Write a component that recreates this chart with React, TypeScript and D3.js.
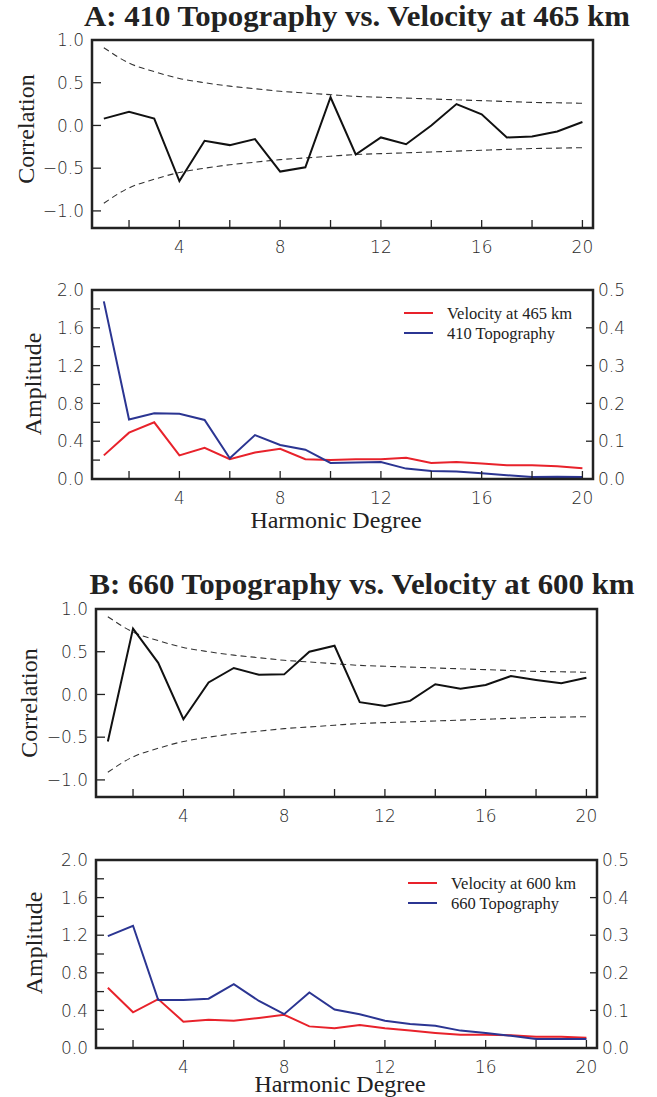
import React from "react";
import * as d3 from "d3";

const degrees = [1, 2, 3, 4, 5, 6, 7, 8, 9, 10, 11, 12, 13, 14, 15, 16, 17, 18, 19, 20];
const xTickValues = [2, 4, 6, 8, 10, 12, 14, 16, 18, 20];
const xTickLabels = [4, 8, 12, 16, 20];
const corrTickValues = [1.0, 0.5, 0.0, -0.5, -1.0];
const ampLeftTicks = [0, 0.2, 0.4, 0.6, 0.8, 1.0, 1.2, 1.4, 1.6, 1.8, 2.0];
const ampLeftLabels = [0, 0.4, 0.8, 1.2, 1.6, 2.0];
const ampRightLabels = [0, 0.1, 0.2, 0.3, 0.4, 0.5];

// significance bounds
const sigUpper = [0.91, 0.73, 0.63, 0.55, 0.5, 0.46, 0.43, 0.4, 0.38, 0.36, 0.34, 0.33, 0.32, 0.31, 0.3, 0.29, 0.28, 0.27, 0.265, 0.26];
const sigLower = [-0.91, -0.73, -0.63, -0.55, -0.5, -0.46, -0.43, -0.4, -0.38, -0.36, -0.34, -0.33, -0.32, -0.31, -0.3, -0.29, -0.28, -0.27, -0.265, -0.26];

// Panel A
const corrA = [0.08, 0.16, 0.08, -0.65, -0.18, -0.23, -0.16, -0.54, -0.49, 0.33, -0.34, -0.14, -0.22, 0.0, 0.25, 0.13, -0.14, -0.13, -0.07, 0.04];
const velA = [0.25, 0.49, 0.6, 0.25, 0.33, 0.21, 0.28, 0.32, 0.21, 0.2, 0.21, 0.21, 0.225, 0.17, 0.18, 0.165, 0.145, 0.145, 0.135, 0.115];
const topoA = [1.88, 0.63, 0.695, 0.69, 0.625, 0.22, 0.465, 0.36, 0.31, 0.17, 0.175, 0.18, 0.11, 0.085, 0.08, 0.06, 0.04, 0.02, 0.025, 0.02];

// Panel B
const corrB = [-0.55, 0.77, 0.37, -0.29, 0.14, 0.31, 0.23, 0.235, 0.5, 0.57, -0.09, -0.135, -0.075, 0.12, 0.066, 0.11, 0.215, 0.17, 0.13, 0.195];
const velB = [0.64, 0.38, 0.52, 0.28, 0.3, 0.29, 0.32, 0.354, 0.23, 0.21, 0.245, 0.21, 0.185, 0.16, 0.14, 0.14, 0.135, 0.12, 0.12, 0.11];
const topoB = [1.19, 1.3, 0.51, 0.51, 0.525, 0.68, 0.5, 0.36, 0.59, 0.41, 0.36, 0.29, 0.255, 0.237, 0.185, 0.16, 0.13, 0.095, 0.095, 0.095];

const SERIF = "'Liberation Serif', 'Times New Roman', serif";
const SANS = "'DejaVu Sans', 'Liberation Sans', sans-serif";
const FRAME = "#222";
const RED = "#e8222b";
const BLUE = "#2b3592";
const TICKTXT = "#2a2a2a";

function XAxis({ x, bottom }: any) {
  return (
    <g>
      {xTickValues.map((v) => (
        <line key={"t" + v} x1={x(v)} x2={x(v)} y1={bottom} y2={bottom - 8} stroke={FRAME} strokeWidth={1.3} />
      ))}
      {xTickLabels.map((v) => (
        <text key={"l" + v} x={x(v)} y={bottom + 25} textAnchor="middle" fontFamily={SANS} fontWeight={200} fontSize={17} fill={TICKTXT}>
          {v}
        </text>
      ))}
    </g>
  );
}

function fmtMinus(v: number) {
  const s = v.toFixed(1);
  return s.replace("-", "\u2212");
}

function CorrPanel({ left, top, width, height, values, ylabelX, ylabelY }: any) {
  const x = d3.scaleLinear().domain([0.53, 20.42]).range([left, left + width]);
  const y = d3.scaleLinear().domain([-1.2, 1.0]).range([top + height, top]);
  const solid = d3.line<number>().x((_, i) => x(degrees[i])).y((d) => y(d));
  const smooth = d3.line<number>().x((_, i) => x(degrees[i])).y((d) => y(d)).curve(d3.curveMonotoneX);
  return (
    <g>
      <path d={smooth(sigUpper) || ""} fill="none" stroke="#333" strokeWidth={1.1} strokeDasharray="6,4" />
      <path d={smooth(sigLower) || ""} fill="none" stroke="#333" strokeWidth={1.1} strokeDasharray="6,4" />
      <path d={solid(values) || ""} fill="none" stroke="#111" strokeWidth={2} strokeLinejoin="miter" />
      {corrTickValues.map((v) => (
        <g key={v}>
          <line x1={left} x2={left + 9} y1={y(v)} y2={y(v)} stroke={FRAME} strokeWidth={1.3} />
          <text x={left - 8} y={y(v)} dy="0.36em" textAnchor="end" fontFamily={SANS} fontWeight={200} fontSize={17} fill={TICKTXT}>
            {fmtMinus(v)}
          </text>
        </g>
      ))}
      <XAxis x={x} bottom={top + height} />
      <rect x={left} y={top} width={width} height={height} fill="none" stroke={FRAME} strokeWidth={2.5} />
      <text transform={`translate(${ylabelX},${ylabelY}) rotate(-90)`} textAnchor="middle" fontFamily={SERIF} fontSize={24} fill="#222">
        Correlation
      </text>
    </g>
  );
}

function AmpPanel({ left, top, width, height, vel, topo, velLabel, topoLabel, ylabelX, ylabelY, xlabelY }: any) {
  const x = d3.scaleLinear().domain([0.53, 20.42]).range([left, left + width]);
  const y = d3.scaleLinear().domain([0, 2.0]).range([top + height, top]);
  const yR = d3.scaleLinear().domain([0, 0.5]).range([top + height, top]);
  const line = d3.line<number>().x((_, i) => x(degrees[i])).y((d) => y(d));
  const legX = left + 312;
  return (
    <g>
      <path d={line(vel) || ""} fill="none" stroke={RED} strokeWidth={2} />
      <path d={line(topo) || ""} fill="none" stroke={BLUE} strokeWidth={2} />
      {ampLeftTicks.map((v) => (
        <line key={"lt" + v} x1={left} x2={left + 8} y1={y(v)} y2={y(v)} stroke={FRAME} strokeWidth={1.3} />
      ))}
      {ampLeftLabels.map((v) => (
        <text key={"ll" + v} x={left - 8} y={y(v)} dy="0.36em" textAnchor="end" fontFamily={SANS} fontWeight={200} fontSize={17} fill={TICKTXT}>
          {v.toFixed(1)}
        </text>
      ))}
      {ampRightLabels.map((v) => (
        <g key={"r" + v}>
          <line x1={left + width - 7} x2={left + width} y1={yR(v)} y2={yR(v)} stroke={FRAME} strokeWidth={1.3} />
          <text x={left + width + 5} y={yR(v)} dy="0.36em" textAnchor="start" fontFamily={SANS} fontWeight={200} fontSize={17} fill={TICKTXT}>
            {v.toFixed(1)}
          </text>
        </g>
      ))}
      <XAxis x={x} bottom={top + height} />
      <rect x={left} y={top} width={width} height={height} fill="none" stroke={FRAME} strokeWidth={2.5} />
      <line x1={legX} x2={legX + 29} y1={top + 23} y2={top + 23} stroke={RED} strokeWidth={2} />
      <text x={legX + 43} y={top + 29} fontFamily={SERIF} fontSize={16.5} fill="#222">{velLabel}</text>
      <line x1={legX} x2={legX + 29} y1={top + 43} y2={top + 43} stroke={BLUE} strokeWidth={2} />
      <text x={legX + 43} y={top + 49} fontFamily={SERIF} fontSize={16.5} fill="#222">{topoLabel}</text>
      <text transform={`translate(${ylabelX},${ylabelY}) rotate(-90)`} textAnchor="middle" fontFamily={SERIF} fontSize={24} fill="#222">
        Amplitude
      </text>
      <text x={left + 244} y={xlabelY} textAnchor="middle" fontFamily={SERIF} fontSize={24} fill="#222">
        Harmonic Degree
      </text>
    </g>
  );
}

export default function App() {
  return (
    <svg width={657} height={1097} style={{ position: "absolute", left: 0, top: 0, background: "#fff" }}>
      <rect x={0} y={0} width={657} height={1097} fill="#fff" />
      <text x={357} y={26} textAnchor="middle" fontFamily={SERIF} fontWeight="bold" fontSize={28.5} textLength={546} lengthAdjust="spacingAndGlyphs" fill="#222">
        A: 410 Topography vs. Velocity at 465 km
      </text>
      <CorrPanel left={92} top={40} width={501} height={188} values={corrA} ylabelX={34} ylabelY={129} />
      <AmpPanel left={92} top={290} width={501} height={189} vel={velA} topo={topoA} velLabel="Velocity at 465 km" topoLabel="410 Topography" ylabelX={41} ylabelY={384} xlabelY={528} />

      <text x={362} y={594} textAnchor="middle" fontFamily={SERIF} fontWeight="bold" fontSize={28.5} textLength={545} lengthAdjust="spacingAndGlyphs" fill="#222">
        B: 660 Topography vs. Velocity at 600 km
      </text>
      <CorrPanel left={96} top={609} width={501} height={188} values={corrB} ylabelX={37} ylabelY={703} />
      <AmpPanel left={96} top={860} width={501} height={188} vel={velB} topo={topoB} velLabel="Velocity at 600 km" topoLabel="660 Topography" ylabelX={42} ylabelY={943} xlabelY={1092} />
    </svg>
  );
}
